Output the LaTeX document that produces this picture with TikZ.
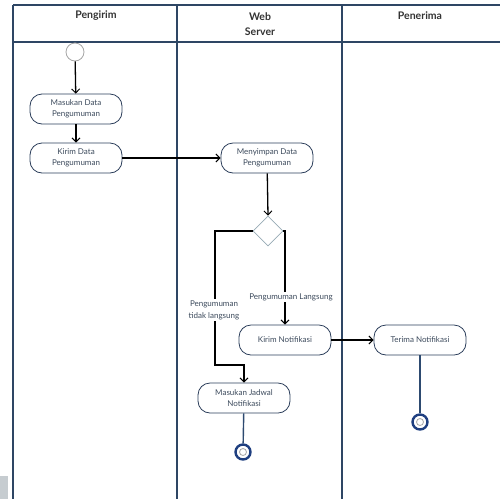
\documentclass[tikz,border=0pt]{standalone}
\usepackage{fontspec}
\setmainfont{Lato}
\usetikzlibrary{shapes.geometric,arrows.meta}
\definecolor{lane}{HTML}{2E4664}
\definecolor{boxline}{HTML}{2B3D5A}
\definecolor{txt}{HTML}{3C4A5C}
\definecolor{navy}{HTML}{1F3F80}
\definecolor{flow}{HTML}{2D4A70}
\begin{document}
\begin{tikzpicture}[x=1pt,y=-1pt,
  act/.style={draw=boxline,line width=0.8pt,rounded corners=12pt,minimum width=92pt,minimum height=30pt,align=center,text=txt,font=\fontsize{8}{11}\selectfont,inner sep=2pt},
  hdr/.style={align=center,font=\fontsize{10.5}{15}\selectfont\bfseries,text=black!80},
  conn/.style={line width=1.3pt,black},
  arr/.style={conn,-{Straight Barb[length=4pt,width=8pt,line width=1pt]}},
  lbl/.style={fill=white,align=center,text=txt,font=\fontsize{8}{12}\selectfont,inner sep=1pt},
  lanel/.style={lane,line width=1.6pt}]
\useasboundingbox (0,0) rectangle (500,499);
% artifact
\fill[white!70!cyan!30!gray!60] (0,476) rectangle (8,499);
% swimlanes
\draw[lanel] (13,5) -- (500,5);
\draw[lanel] (13,42) -- (500,42);
\draw[lanel] (13,5) -- (13,499);
\draw[lanel] (177,5) -- (177,499);
\draw[lanel] (342,5) -- (342,499);
\node[hdr] (h1) at (96,16) {Pengirim};
\node[hdr] (h2) at (260,24) {Web\\Server};
\node[hdr] (h3) at (420,16) {Penerima};
% nodes
\node[circle,draw=gray!70,line width=0.8pt,minimum size=18pt,inner sep=0pt] (start) at (75,52) {};
\node[act] (masuk) at (76,109) {Masukan Data\\Pengumuman};
\node[act] (kirim) at (76,158) {Kirim Data\\Pengumuman};
\node[act] (simpan) at (267,158) {Menyimpan Data\\Pengumuman};
\node[diamond,draw=gray!50!cyan!60!black!60,line width=0.8pt,minimum width=30pt,minimum height=30pt,inner sep=0pt] (dec) at (268,231) {};
\node[act] (kirimnot) at (285,340) {Kirim Notifikasi};
\node[act] (terima) at (420,340) {Terima Notifikasi};
\node[act] (jadwal) at (244,398) {Masukan Jadwal\\Notifikasi};
\node[circle,draw=navy,line width=2.4pt,minimum size=15pt,inner sep=0pt] (end1) at (243,452) {};
\node[circle,draw=gray!70,line width=0.8pt,minimum size=7pt,inner sep=0pt] (end1i) at (243,452) {};
\node[circle,draw=navy,line width=2.4pt,minimum size=15pt,inner sep=0pt] (end2) at (420,422) {};
\node[circle,draw=gray!70,line width=0.8pt,minimum size=7pt,inner sep=0pt] (end2i) at (420,422) {};
\coordinate (lc) at (215,365);
% connectors
\draw[arr] (start) -- (masuk);
\draw[arr] (masuk) -- (kirim);
\draw[arr] (kirim.east) -- (simpan.west);
\draw[arr] (simpan) -- (dec.north);
\draw[arr] (dec.west) -| (lc) -| (jadwal.north);
\draw[arr] (dec.east) -| (kirimnot.north);
\draw[arr] (kirimnot) -- (terima);
\draw[flow,line width=1.4pt] (terima) -- (end2);
\draw[flow,line width=1.4pt] (jadwal) -- (end1);
% labels
\node[lbl] (l1) at (291,297) {Pengumuman Langsung};
\node[lbl] (l2) at (214,310) {Pengumuman\\tidak langsung};
\end{tikzpicture}
\end{document}
